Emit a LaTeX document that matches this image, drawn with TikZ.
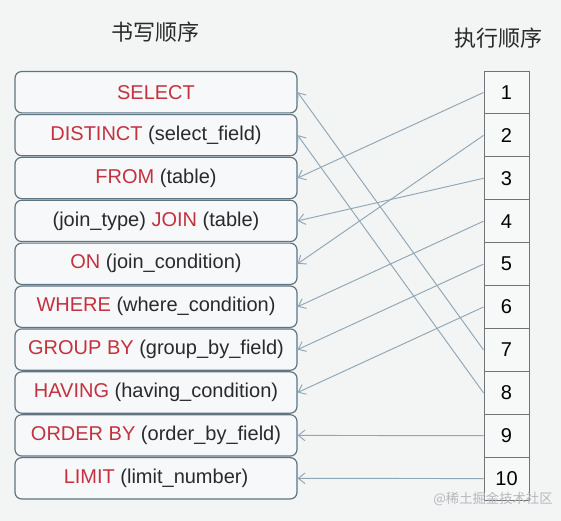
\documentclass[tikz,border=0pt]{standalone}
\usepackage{fontspec}
\setmainfont{Liberation Sans}
\newfontfamily\cjk{Noto Sans CJK SC}
\usetikzlibrary{arrows.meta}
\definecolor{bgc}{HTML}{F3F4F4}
\definecolor{boxfill}{HTML}{F6F8F9}
\definecolor{boxline}{HTML}{5F7682}
\definecolor{kw}{HTML}{C4323F}
\definecolor{txt}{HTML}{2A2A2A}
\definecolor{arr}{HTML}{8FA6B4}
\definecolor{cellline}{HTML}{6E7478}
\definecolor{cellfill}{HTML}{F7F8F8}
\definecolor{wm}{HTML}{B5B9BC}
\tikzset{
  sqlbox/.style={draw=boxline, line width=0.9pt, fill=boxfill, rounded corners=5pt,
    minimum width=211.5pt, minimum height=31pt, inner sep=0pt,
    font=\fontsize{15}{18}\selectfont, text=txt},
  cell/.style={draw=cellline, line width=0.75pt, fill=cellfill,
    minimum width=33.75pt, minimum height=32.2pt, inner sep=0pt,
    font=\fontsize{15}{18}\selectfont, text=black},
  title/.style={font=\cjk\fontsize{16.5}{20}\selectfont, text=txt},
  flow/.style={draw=arr, line width=0.7pt, -{Straight Barb[length=5pt,width=8pt]}}
}
\newcommand{\kwd}[1]{\textcolor{kw}{#1}}
\begin{document}
\begin{tikzpicture}[x=0.75pt,y=-0.75pt]
\useasboundingbox (0,0) rectangle (561,521);
\fill[bgc] (0,0) rectangle (561,521);
\node[title] (t1) at (155,32) {书写顺序};
\node[title] (t2) at (498,38) {执行顺序};
% writing order boxes
\node[sqlbox] (b1)  at (156,92.2)  {\kwd{SELECT}};
\node[sqlbox] (b2)  at (156,135.1) {\kwd{DISTINCT} (select\_field)};
\node[sqlbox] (b3)  at (156,178.0) {\kwd{FROM} (table)};
\node[sqlbox] (b4)  at (156,220.9) {(join\_type) \kwd{JOIN} (table)};
\node[sqlbox] (b5)  at (156,263.8) {\kwd{ON} (join\_condition)};
\node[sqlbox] (b6)  at (156,306.7) {\kwd{WHERE} (where\_condition)};
\node[sqlbox] (b7)  at (156,349.6) {\kwd{GROUP BY} (group\_by\_field)};
\node[sqlbox] (b8)  at (156,392.5) {\kwd{HAVING} (having\_condition)};
\node[sqlbox] (b9)  at (156,435.4) {\kwd{ORDER BY} (order\_by\_field)};
\node[sqlbox] (b10) at (156,478.3) {\kwd{LIMIT} (limit\_number)};
% execution order column
\node[cell] (c1)  at (506.5,92.5)  {1};
\node[cell] (c2)  at (506.5,135.4) {2};
\node[cell] (c3)  at (506.5,178.3) {3};
\node[cell] (c4)  at (506.5,221.2) {4};
\node[cell] (c5)  at (506.5,264.1) {5};
\node[cell] (c6)  at (506.5,307.0) {6};
\node[cell] (c7)  at (506.5,349.9) {7};
\node[cell] (c8)  at (506.5,392.8) {8};
\node[cell] (c9)  at (506.5,435.7) {9};
\node[cell] (c10) at (506.5,478.6) {10};
% connectors
\draw[flow] (c1.west) -- (b3.east);
\draw[flow] (c2.west) -- (b5.east);
\draw[flow] (c3.west) -- (b4.east);
\draw[flow] (c4.west) -- (b6.east);
\draw[flow] (c5.west) -- (b7.east);
\draw[flow] (c6.west) -- (b8.east);
\draw[flow] (c7.west) -- (b1.east);
\draw[flow] (c8.west) -- (b2.east);
\draw[flow] (c9.west) -- (b9.east);
\draw[flow] (c10.west) -- (b10.east);
% watermark
\node[font=\cjk\fontsize{10}{12}\selectfont, text=wm] (wmk) at (493,499) {@稀土掘金技术社区};
\end{tikzpicture}
\end{document}
